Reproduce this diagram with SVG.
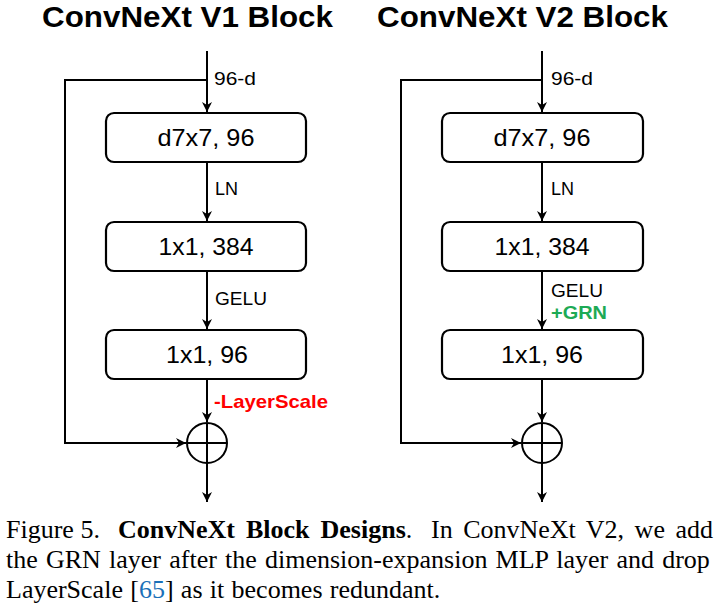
<svg xmlns="http://www.w3.org/2000/svg" width="716" height="616" viewBox="0 0 716 616">
<defs>
<marker id="ah" markerWidth="12" markerHeight="12" refX="11" refY="6" orient="auto" markerUnits="userSpaceOnUse">
<path d="M1,1 L11,6 L1,11 L4,6 Z" fill="#000"/>
</marker>
<style>
.title{font-family:"Liberation Sans",Arial,sans-serif;font-weight:bold;font-size:29px;fill:#000}
.box{fill:#fff;stroke:#000;stroke-width:2.2}
.bt{font-family:"Liberation Sans",Arial,sans-serif;font-size:24px;fill:#000;text-anchor:middle}
.lb{font-family:"Liberation Sans",Arial,sans-serif;font-size:18px;fill:#000}
.red{font-family:"Liberation Sans",Arial,sans-serif;font-size:19px;font-weight:bold;fill:#ff0000}
.grn{font-family:"Liberation Sans",Arial,sans-serif;font-size:19px;font-weight:bold;fill:#1daa55}
.ln{fill:none;stroke:#000;stroke-width:2}
.arr{fill:none;stroke:#000;stroke-width:2;marker-end:url(#ah)}
.cap{font-family:"Liberation Serif","Times New Roman",serif;font-size:26px;fill:#000}
</style>
</defs>

<text class="title" x="42" y="27" textLength="291" lengthAdjust="spacingAndGlyphs">ConvNeXt V1 Block</text>
<text class="title" x="377" y="27" textLength="291" lengthAdjust="spacingAndGlyphs">ConvNeXt V2 Block</text>

<g id="connectors">
<path class="arr" d="M207,51 V112"/>
<path class="arr" d="M207,80 H65 V443 H186"/>
<path class="arr" d="M207,162 V221"/>
<path class="arr" d="M207,271 V329"/>
<path class="arr" d="M207,379 V422"/>
<path class="arr" d="M207,463 V502"/>
<path class="arr" d="M542,51 V112"/>
<path class="arr" d="M542,80 H401 V443 H521"/>
<path class="arr" d="M542,162 V221"/>
<path class="arr" d="M542,271 V329"/>
<path class="arr" d="M542,379 V422"/>
<path class="arr" d="M542,463 V502"/>
</g>

<g id="v1-dw">
<rect class="box" x="106" y="113" width="200" height="49" rx="8"/>
<text class="bt" x="206" y="146" textLength="97" lengthAdjust="spacingAndGlyphs">d7x7, 96</text>
</g>
<g id="v1-pw1">
<rect class="box" x="106" y="222" width="200" height="49" rx="8"/>
<text class="bt" x="206" y="255" textLength="95" lengthAdjust="spacingAndGlyphs">1x1, 384</text>
</g>
<g id="v1-pw2">
<rect class="box" x="106" y="330" width="200" height="49" rx="8"/>
<text class="bt" x="207" y="363" textLength="82" lengthAdjust="spacingAndGlyphs">1x1, 96</text>
</g>
<g id="v1-add">
<circle cx="207" cy="443" r="20" fill="#fff" stroke="#000" stroke-width="2"/>
<path class="ln" d="M187,443 H227 M207,423 V463"/>
</g>
<g id="v1-labels">
<text class="lb" x="214" y="85" textLength="42" lengthAdjust="spacingAndGlyphs">96-d</text>
<text class="lb" x="215" y="195" textLength="23" lengthAdjust="spacingAndGlyphs">LN</text>
<text class="lb" x="215" y="305" textLength="52" lengthAdjust="spacingAndGlyphs">GELU</text>
<text class="red" x="214" y="408" textLength="114" lengthAdjust="spacingAndGlyphs">-LayerScale</text>
</g>

<g id="v2-dw">
<rect class="box" x="442" y="113" width="201" height="49" rx="8"/>
<text class="bt" x="542" y="146" textLength="97" lengthAdjust="spacingAndGlyphs">d7x7, 96</text>
</g>
<g id="v2-pw1">
<rect class="box" x="442" y="222" width="201" height="49" rx="8"/>
<text class="bt" x="542" y="255" textLength="95" lengthAdjust="spacingAndGlyphs">1x1, 384</text>
</g>
<g id="v2-pw2">
<rect class="box" x="442" y="330" width="201" height="49" rx="8"/>
<text class="bt" x="542" y="363" textLength="82" lengthAdjust="spacingAndGlyphs">1x1, 96</text>
</g>
<g id="v2-add">
<circle cx="542" cy="443" r="20" fill="#fff" stroke="#000" stroke-width="2"/>
<path class="ln" d="M522,443 H562 M542,423 V463"/>
</g>
<g id="v2-labels">
<text class="lb" x="551" y="85" textLength="42" lengthAdjust="spacingAndGlyphs">96-d</text>
<text class="lb" x="551" y="195" textLength="23" lengthAdjust="spacingAndGlyphs">LN</text>
<text class="lb" x="551" y="297" textLength="52" lengthAdjust="spacingAndGlyphs">GELU</text>
<text class="grn" x="551" y="319" textLength="56" lengthAdjust="spacingAndGlyphs">+GRN</text>
</g>

<g id="caption">
<text class="cap" y="538"><tspan x="6">Figure 5.</tspan><tspan x="118" font-weight="bold" word-spacing="4.5">ConvNeXt Block Designs</tspan><tspan>.</tspan><tspan x="431" word-spacing="4">In ConvNeXt V2, we add</tspan></text>
<text class="cap" x="6" y="568" word-spacing="1.7">the GRN layer after the dimension-expansion MLP layer and drop</text>
<text class="cap" x="6" y="598" word-spacing="0.8">LayerScale [<tspan fill="#1a70b8">65</tspan>] as it becomes redundant.</text>
</g>
</svg>
